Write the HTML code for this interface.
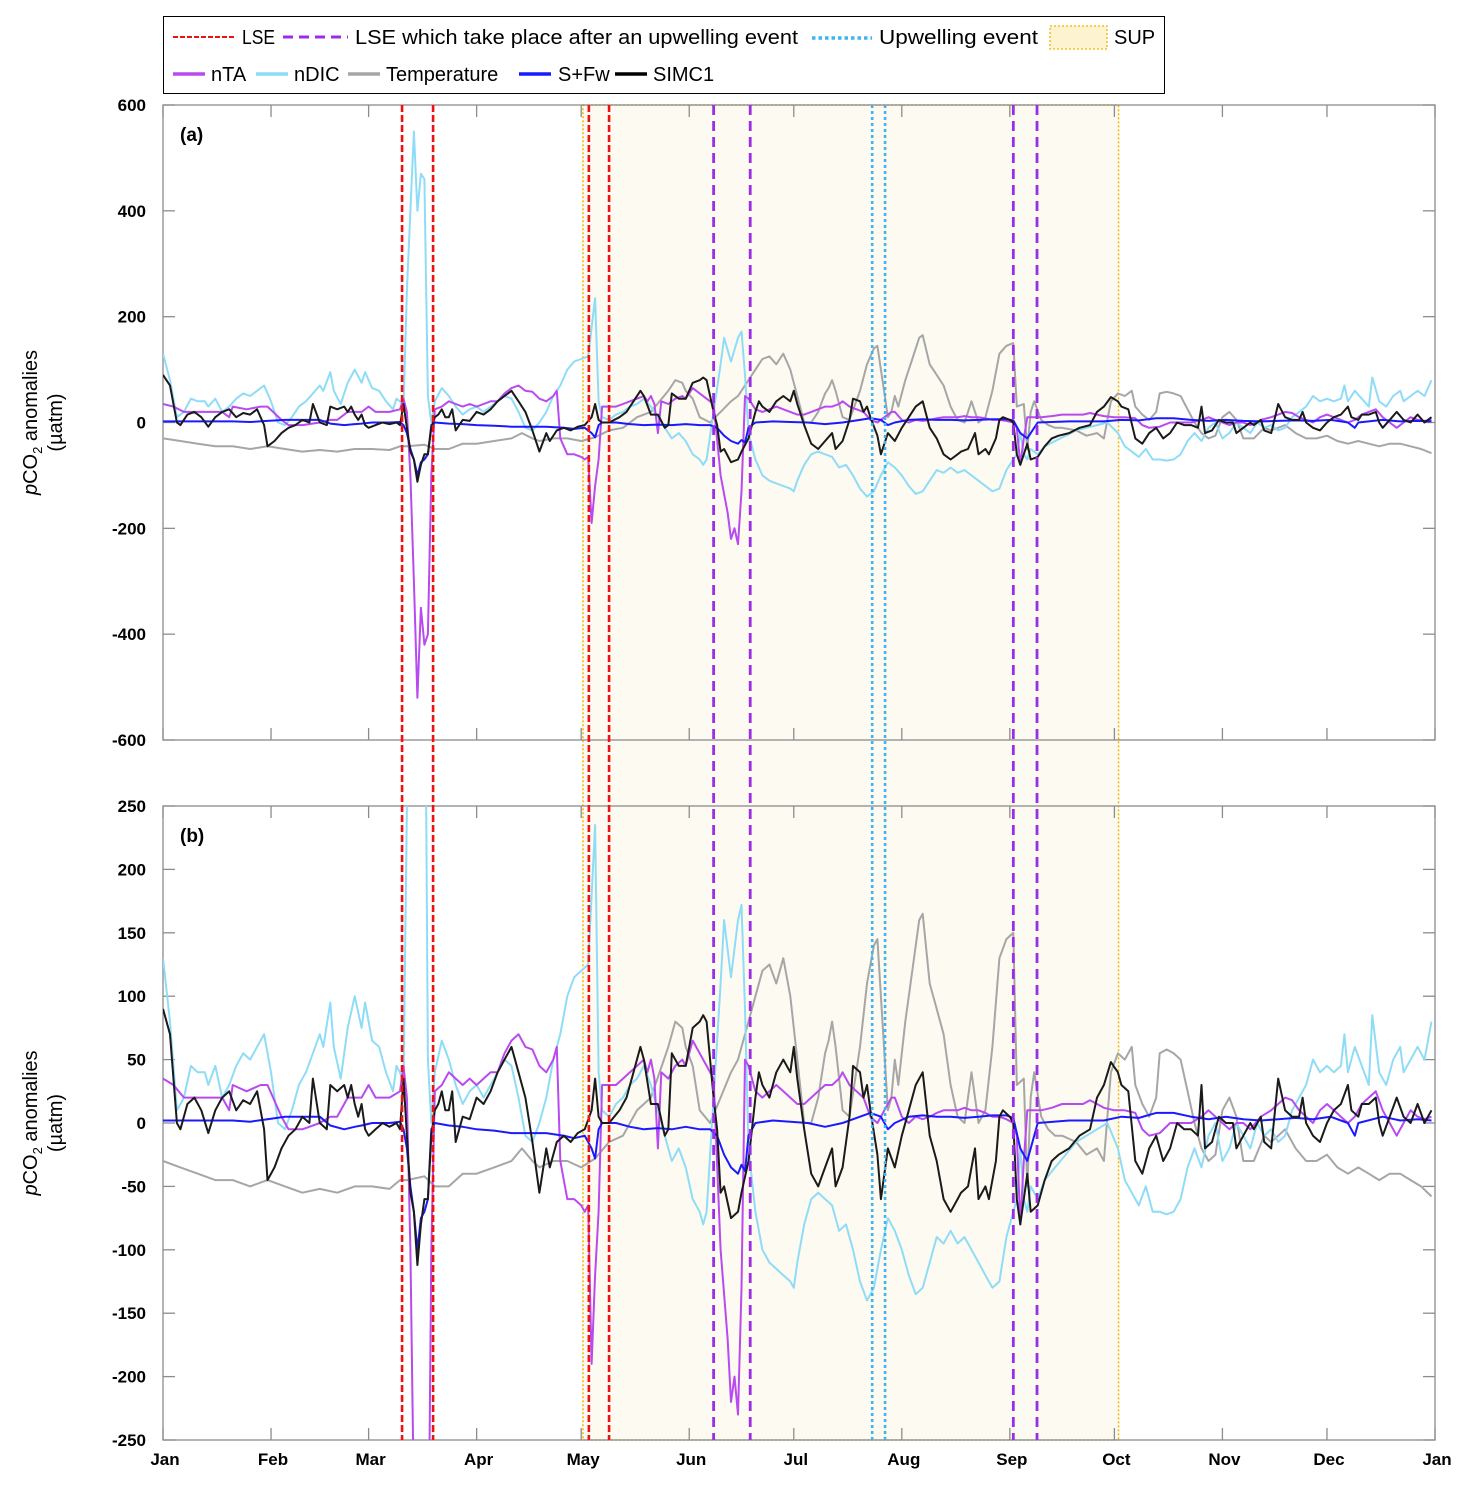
<!DOCTYPE html>
<html><head><meta charset="utf-8"><style>
html,body{margin:0;padding:0;background:#fff;overflow:hidden;width:1467px;height:1487px;}
svg{display:block;font-family:"Liberation Sans",Calibri,sans-serif;}
</style></head><body>
<svg id="c" width="1467" height="1487" viewBox="0 0 1467 1487" xmlns="http://www.w3.org/2000/svg"></svg>
<script>
const months = ["Jan","Feb","Mar","Apr","May","Jun","Jul","Aug","Sep","Oct","Nov","Dec","Jan"];
const monthDays = [0,31,59,90,120,151,181,212,243,273,304,334,365];
const ticksA = [600,400,200,0,-200,-400,-600];
const ticksB = [250,200,150,100,50,0,-50,-100,-150,-200,-250];
const lseDays = [68.6,77.5,122.2,128];
const lseUpDays = [158,168.5,244,250.8];
const upwellDays = [203.5,207.2];
const supRange = [120.5,274.2];

const simc1 = [[0,90],[2,70],[4,0],[5,-5],[7,15],[9,20],[11,10],[13,-8],[15,10],[17,20],[19,25],[21,10],[23,18],[25,15],[27,25],[29,-5],[30,-45],[32,-35],[34,-20],[36,-10],[38,-5],[39,0],[40,5],[42,0],[43,35],[45,0],[47,-5],[48,30],[50,25],[52,30],[53,20],[54,30],[55,15],[56,5],[57,15],[58,-5],[59,-10],[61,-5],[63,0],[65,-3],[67,0],[68,-5],[69,35],[70,-10],[71,-55],[72,-70],[73,-112],[74,-80],[75,-60],[76,-60],[77,-10],[78,10],[79,15],[80,25],[81,10],[82,10],[83,25],[84,-15],[86,5],[88,3],[90,20],[92,15],[94,25],[96,40],[98,50],[100,60],[102,40],[104,20],[106,-15],[108,-55],[110,-20],[111,-35],[113,-15],[115,-10],[117,-15],[119,-8],[121,-5],[123,10],[124,35],[125,5],[126,0],[128,0],[131,10],[133,20],[135,40],[137,60],[138,50],[140,15],[142,15],[144,-10],[145,-5],[146,55],[148,45],[150,45],[152,75],[154,80],[155,85],[156,80],[158,20],[159,-5],[160,-55],[161,-50],[163,-75],[165,-70],[166,-55],[168,-30],[170,20],[171,40],[172,30],[174,20],[176,40],[178,50],[180,40],[181,60],[182,35],[184,-5],[186,-40],[188,-50],[190,-35],[192,-20],[193,-50],[195,-35],[197,5],[198,45],[200,40],[201,20],[202,30],[203,10],[205,-25],[206,-60],[208,-20],[210,-35],[212,-10],[214,10],[216,30],[218,40],[220,-10],[222,-30],[224,-60],[226,-70],[228,-60],[229,-55],[231,-50],[233,-20],[234,-60],[236,-50],[237,-60],[239,-30],[240,5],[241,10],[243,5],[244,0],[245,-60],[246,-80],[247,-60],[248,-40],[249,-70],[251,-65],[253,-45],[255,-30],[257,-25],[260,-20],[263,-10],[266,-5],[268,20],[270,30],[272,48],[274,40],[275,30],[277,25],[279,-30],[281,-40],[283,-20],[285,-10],[287,-30],[289,-20],[291,0],[293,-5],[295,-5],[297,-10],[298,30],[299,-20],[301,-15],[303,5],[305,0],[307,0],[308,-20],[310,-10],[312,0],[313,-5],[315,5],[316,-15],[318,-20],[320,35],[322,10],[324,5],[326,5],[327,20],[328,0],[330,-10],[332,-15],[334,0],[336,10],[338,15],[340,30],[341,10],[343,5],[344,15],[346,15],[348,20],[349,0],[350,-10],[352,5],[354,20],[356,5],[358,0],[360,15],[362,0],[364,10]];
const temperature = [[0,-30],[5,-35],[10,-40],[15,-45],[20,-45],[25,-50],[30,-45],[35,-50],[40,-55],[45,-52],[50,-55],[55,-50],[60,-50],[65,-52],[68,-45],[70,-45],[75,-42],[78,-50],[82,-50],[86,-40],[90,-40],[95,-35],[100,-30],[103,-20],[106,-30],[108,-35],[112,-30],[116,-30],[120,-35],[124,-28],[128,-15],[132,-10],[136,10],[140,20],[145,60],[147,80],[149,75],[150,60],[152,45],[154,10],[157,0],[160,20],[163,40],[165,50],[168,80],[170,100],[172,120],[174,125],[176,110],[178,130],[180,100],[182,50],[184,0],[186,0],[188,20],[190,55],[191,65],[192,80],[193,60],[195,10],[197,5],[200,60],[202,110],[204,140],[205,145],[206,100],[208,10],[209,20],[210,50],[211,30],[213,80],[215,120],[217,160],[218,165],[220,110],[222,90],[224,70],[226,30],[228,5],[230,0],[232,40],[234,0],[236,10],[238,60],[240,130],[242,145],[244,150],[245,30],[247,35],[248,-50],[249,20],[250,40],[252,5],[254,-5],[256,-10],[258,-10],[262,-15],[265,-25],[268,-20],[270,-30],[272,40],[274,55],[276,50],[278,60],[279,30],[281,15],[283,5],[285,20],[286,55],[288,58],[290,55],[292,50],[294,25],[296,0],[298,-20],[300,-30],[302,-25],[304,10],[306,20],[308,5],[310,-30],[313,-30],[316,-10],[318,-15],[320,-10],[322,-5],[325,-20],[328,-30],[331,-30],[334,-25],[337,-35],[340,-40],[343,-35],[346,-40],[349,-45],[352,-40],[355,-40],[358,-45],[361,-50],[364,-58]];
const nDIC = [[0,130],[2,80],[4,10],[6,20],[8,45],[10,40],[12,40],[13,30],[15,45],[17,20],[19,30],[21,45],[23,55],[25,50],[27,60],[29,70],[31,40],[33,0],[35,-5],[37,10],[39,30],[41,40],[43,55],[45,70],[46,60],[48,95],[49,60],[51,35],[53,75],[55,100],[57,75],[58,95],[60,65],[62,60],[64,40],[66,25],[67,45],[68,40],[69,30],[70,250],[72,550],[73,400],[74,470],[75,460],[76,50],[77,0],[78,40],[80,65],[82,50],[84,30],[86,15],[88,25],[90,30],[92,20],[94,30],[96,40],[98,50],[100,45],[102,20],[104,-10],[106,-15],[108,0],[110,20],[112,50],[114,70],[116,100],[118,115],[120,120],[122,125],[124,235],[125,40],[126,10],[128,5],[130,15],[132,20],[134,30],[136,35],[138,45],[140,30],[142,10],[144,-10],[146,-30],[148,-20],[150,-35],[152,-60],[154,-70],[155,-80],[156,-70],[158,20],[160,110],[161,160],[163,115],[165,160],[166,172],[167,90],[168,-20],[170,-70],[172,-100],[174,-110],[176,-115],[178,-120],[180,-125],[181,-130],[182,-110],[184,-80],[186,-60],[188,-55],[190,-60],[192,-65],[194,-85],[196,-80],[198,-100],[200,-125],[202,-140],[204,-130],[206,-100],[208,-75],[210,-85],[212,-100],[214,-120],[216,-135],[218,-130],[220,-110],[222,-90],[224,-95],[226,-85],[228,-95],[230,-90],[232,-100],[234,-110],[236,-120],[238,-130],[240,-125],[242,-90],[244,-70],[245,-60],[246,-20],[247,-60],[248,-70],[249,-50],[251,-60],[253,-45],[256,-35],[259,-25],[262,-15],[265,-10],[268,-5],[271,0],[274,-20],[276,-45],[278,-55],[280,-65],[282,-50],[284,-70],[286,-70],[288,-72],[290,-70],[292,-60],[294,-35],[296,-20],[298,-35],[300,-10],[302,0],[304,-30],[306,-20],[308,0],[310,-10],[312,-20],[314,0],[316,-10],[318,-5],[320,-15],[322,-10],[324,10],[326,20],[328,30],[330,50],[332,40],[334,45],[336,40],[338,45],[339,70],[340,40],[342,60],[344,45],[346,30],[347,85],[349,40],[351,30],[353,50],[355,60],[356,40],[358,50],[360,60],[362,50],[364,80]];
const nTA = [[0,35],[3,30],[6,20],[10,20],[14,20],[17,20],[19,10],[20,30],[24,25],[28,30],[30,30],[34,5],[36,-5],[40,-5],[45,0],[48,5],[50,5],[52,15],[53,20],[55,20],[57,20],[59,30],[61,20],[65,20],[68,25],[69,45],[70,20],[71,-100],[72,-300],[73,-520],[74,-350],[75,-420],[76,-400],[77,-100],[78,25],[80,30],[82,40],[84,35],[86,30],[88,35],[90,30],[92,35],[94,40],[96,40],[98,55],[100,65],[102,70],[104,60],[106,58],[108,45],[110,40],[112,50],[113,60],[114,-30],[116,-60],[118,-60],[120,-65],[121,-70],[122,-65],[123,-190],[124,-120],[125,-70],[126,30],[128,30],[130,30],[132,35],[134,40],[136,45],[138,50],[139,40],[140,50],[141,35],[142,-20],[143,40],[145,35],[147,45],[149,50],[150,45],[152,65],[154,55],[156,45],[158,35],[160,-100],[162,-170],[163,-220],[164,-200],[165,-230],[166,-130],[167,50],[168,45],[170,25],[172,20],[174,25],[176,30],[178,25],[180,20],[182,15],[184,15],[186,20],[188,25],[190,30],[192,30],[194,35],[195,40],[197,30],[199,25],[201,20],[203,5],[205,0],[207,10],[209,20],[210,20],[212,5],[214,0],[216,5],[218,3],[220,5],[222,8],[224,10],[226,10],[228,10],[230,12],[232,10],[234,10],[236,8],[238,5],[240,5],[242,3],[244,0],[245,-10],[246,-80],[247,-30],[248,10],[250,10],[252,10],[255,12],[258,15],[261,15],[264,15],[266,18],[268,15],[270,12],[273,10],[276,10],[279,8],[281,-5],[283,-10],[286,-8],[289,0],[292,0],[295,0],[298,5],[300,10],[302,5],[304,0],[306,-5],[308,0],[310,0],[312,-5],[315,5],[318,10],[320,15],[322,20],[324,18],[326,10],[328,5],[330,0],[332,10],[334,15],[336,10],[338,5],[340,0],[342,5],[344,15],[346,20],[348,25],[350,10],[352,0],[354,-10],[356,0],[358,10],[360,5],[362,3],[364,5]];
const sFw = [[0,2],[10,2],[20,2],[25,1],[30,3],[35,5],[40,5],[45,5],[48,-2],[52,-5],[55,-3],[57,-2],[60,0],[65,0],[68,1],[69,-5],[70,-20],[71,-50],[72,-70],[73,-100],[74,-75],[75,-70],[76,-60],[77,-5],[78,0],[82,-2],[86,-3],[90,-5],[95,-6],[100,-8],[105,-8],[110,-8],[115,-10],[118,-12],[121,-10],[123,-20],[124,-28],[125,-5],[126,0],[130,0],[134,-3],[138,-5],[142,-4],[146,-5],[150,-3],[154,-5],[157,-5],[159,-10],[161,-25],[163,-35],[165,-40],[166,-33],[167,-38],[168,-10],[170,0],[175,2],[180,1],[185,0],[190,-3],[195,0],[200,5],[203,8],[206,5],[208,-5],[210,0],[214,5],[218,6],[222,5],[226,5],[230,4],[234,5],[238,6],[242,6],[244,4],[246,-20],[248,-30],[249,-20],[251,0],[260,2],[270,2],[275,5],[280,4],[285,8],[290,8],[295,5],[300,3],[305,5],[310,3],[315,2],[320,3],[325,4],[330,3],[335,5],[338,2],[340,0],[342,-10],[343,0],[350,5],[355,2],[360,3],[364,2]];

const NS="http://www.w3.org/2000/svg";
const svg=document.getElementById('c');
function mk(tag,attrs,parent){const e=document.createElementNS(NS,tag);for(const k in attrs)e.setAttribute(k,attrs[k]);(parent||svg).appendChild(e);return e;}
const X0=163,X1=1435;
const xS=d=>X0+d*(X1-X0)/365;
const panels=[{top:105,bot:740,min:-600,max:600,ticks:ticksA,label:"(a)",name:"panel-a"},{top:806,bot:1440,min:-250,max:250,ticks:ticksB,label:"(b)",name:"panel-b"}];

const sup=mk('rect',{x:xS(supRange[0]),y:105,width:xS(supRange[1])-xS(supRange[0]),height:1335,fill:'#fdfaf2',stroke:'#f0b400','stroke-width':1.5,'stroke-dasharray':'2,2'});



const seriesList=[
 {data:temperature,color:'#a6a6a6',name:'temperature-line'},
 {data:nDIC,color:'#8fdcf7',name:'ndic-line'},
 {data:nTA,color:'#b84af0',name:'nta-line'},
 {data:sFw,color:'#1a1aff',name:'s-fw-line'},
 {data:simc1,color:'#1a1a1a',name:'simc1-line'}];

panels.forEach((p,pi)=>{
 const yS=v=>p.bot-(v-p.min)*(p.bot-p.top)/(p.max-p.min);
 const g=mk('g',{});
 
 
 const cp=mk('clipPath',{id:'cp'+pi},g);
 mk('rect',{x:X0,y:p.top,width:X1-X0,height:p.bot-p.top},cp);
 const frame=mk('rect',{x:X0,y:p.top,width:X1-X0,height:p.bot-p.top,fill:'none',stroke:'#8c8c8c','stroke-width':1.3},g);
 
 
 p.ticks.forEach(t=>{
  const y=yS(t);
  mk('line',{x1:X0,x2:X0+12,y1:y,y2:y,stroke:'#8c8c8c','stroke-width':1.3},g);
  mk('line',{x1:X1-12,x2:X1,y1:y,y2:y,stroke:'#8c8c8c','stroke-width':1.3},g);
  const tl=mk('text',{x:146,y:y+6,'text-anchor':'end','font-size':17,'font-weight':'bold',fill:'#000'},g);
  tl.textContent=t;
  
  
 });
 monthDays.forEach(d=>{
  const x=xS(d);
  mk('line',{x1:x,x2:x,y1:p.bot,y2:p.bot-12,stroke:'#8c8c8c','stroke-width':1.3},g);
  mk('line',{x1:x,x2:x,y1:p.top,y2:p.top+12,stroke:'#8c8c8c','stroke-width':1.3},g);
 });
 const sg=mk('g',{'clip-path':'url(#cp'+pi+')'},g);
 seriesList.forEach(s=>{
  const pts=s.data.map(([d,v])=>xS(d).toFixed(1)+','+yS(v).toFixed(1)).join(' ');
  const pl=mk('polyline',{points:pts,fill:'none',stroke:s.color,'stroke-width':2,'stroke-linejoin':'round'},sg);
  
  
 });
 const lab=mk('text',{x:180,y:p.top+36,'font-size':19,'font-weight':'bold'},g);
 lab.textContent=p.label;
 
 
 const yt=mk('text',{'text-anchor':'middle','font-size':20,transform:`translate(37,${(p.top+p.bot)/2}) rotate(-90)`},g);
 yt.innerHTML='<tspan font-style="italic">p</tspan>CO<tspan font-size="13" dy="5">2</tspan><tspan dy="-5"> anomalies</tspan>';
 
 
 const yt2=mk('text',{'text-anchor':'middle','font-size':20,transform:`translate(62,${(p.top+p.bot)/2}) rotate(-90)`},g);
 yt2.textContent='(µatm)';
 
 
});

function vline(d,color,dash,w,name){
 const l=mk('line',{x1:xS(d),x2:xS(d),y1:105,y2:1440,stroke:color,'stroke-width':w,'stroke-dasharray':dash});
 
 
}
lseDays.forEach(d=>vline(d,'#ee1111','7,3',2.6,'lse-line'));
lseUpDays.forEach(d=>vline(d,'#9a2ee6','10,6',2.8,'lse-after-upwelling-line'));
upwellDays.forEach(d=>vline(d,'#3cb4f5','3,3',2.6,'upwelling-line'));

months.forEach((m,i)=>{
 const t=mk('text',{x:xS(monthDays[i])+2,y:1465,'text-anchor':'middle','font-size':17,'font-weight':'bold'});
 t.textContent=m;
 
 
});

const lg=mk('g',{});


mk('rect',{x:163.5,y:16.5,width:1001,height:77,fill:'#fff',stroke:'#000','stroke-width':1},lg);
function lgText(x,y,txt,name,len){const a={x:x,y:y,'font-size':20};if(len){a.textLength=len;a.lengthAdjust='spacingAndGlyphs';}const t=mk('text',a,lg);t.textContent=txt;}
mk('line',{x1:173,x2:235,y1:37,y2:37,stroke:'#ee1111','stroke-width':2,'stroke-dasharray':'5,2'},lg);
lgText(242,44,'LSE','legend-lse',33);
mk('line',{x1:283,x2:348,y1:37,y2:37,stroke:'#9a2ee6','stroke-width':3,'stroke-dasharray':'10,6'},lg);
lgText(355,44,'LSE which take place after an upwelling event','legend-lse-after-upwelling',443);
mk('line',{x1:812,x2:872,y1:38,y2:38,stroke:'#3cb4f5','stroke-width':3.5,'stroke-dasharray':'3.5,3'},lg);
lgText(879,44,'Upwelling event','legend-upwelling',159);
mk('rect',{x:1050,y:26,width:57,height:23,fill:'#fdf3d0',stroke:'#f0b400','stroke-width':1.3,'stroke-dasharray':'2,2'},lg);
lgText(1114,44,'SUP','legend-sup');
[[173,211,'#b84af0','nTA'],[256,294,'#8fdcf7','nDIC'],[348,386,'#a6a6a6','Temperature'],[519,558,'#1a1aff','S+Fw'],[615,653,'#000','SIMC1']].forEach(([x,tx,c,t])=>{
 mk('line',{x1:x,x2:x+32,y1:74,y2:74,stroke:c,'stroke-width':3.5},lg);
 lgText(tx,81,t,'legend-'+t.toLowerCase().replace(/[^a-z0-9]/g,''));
});
</script>
</body></html>
